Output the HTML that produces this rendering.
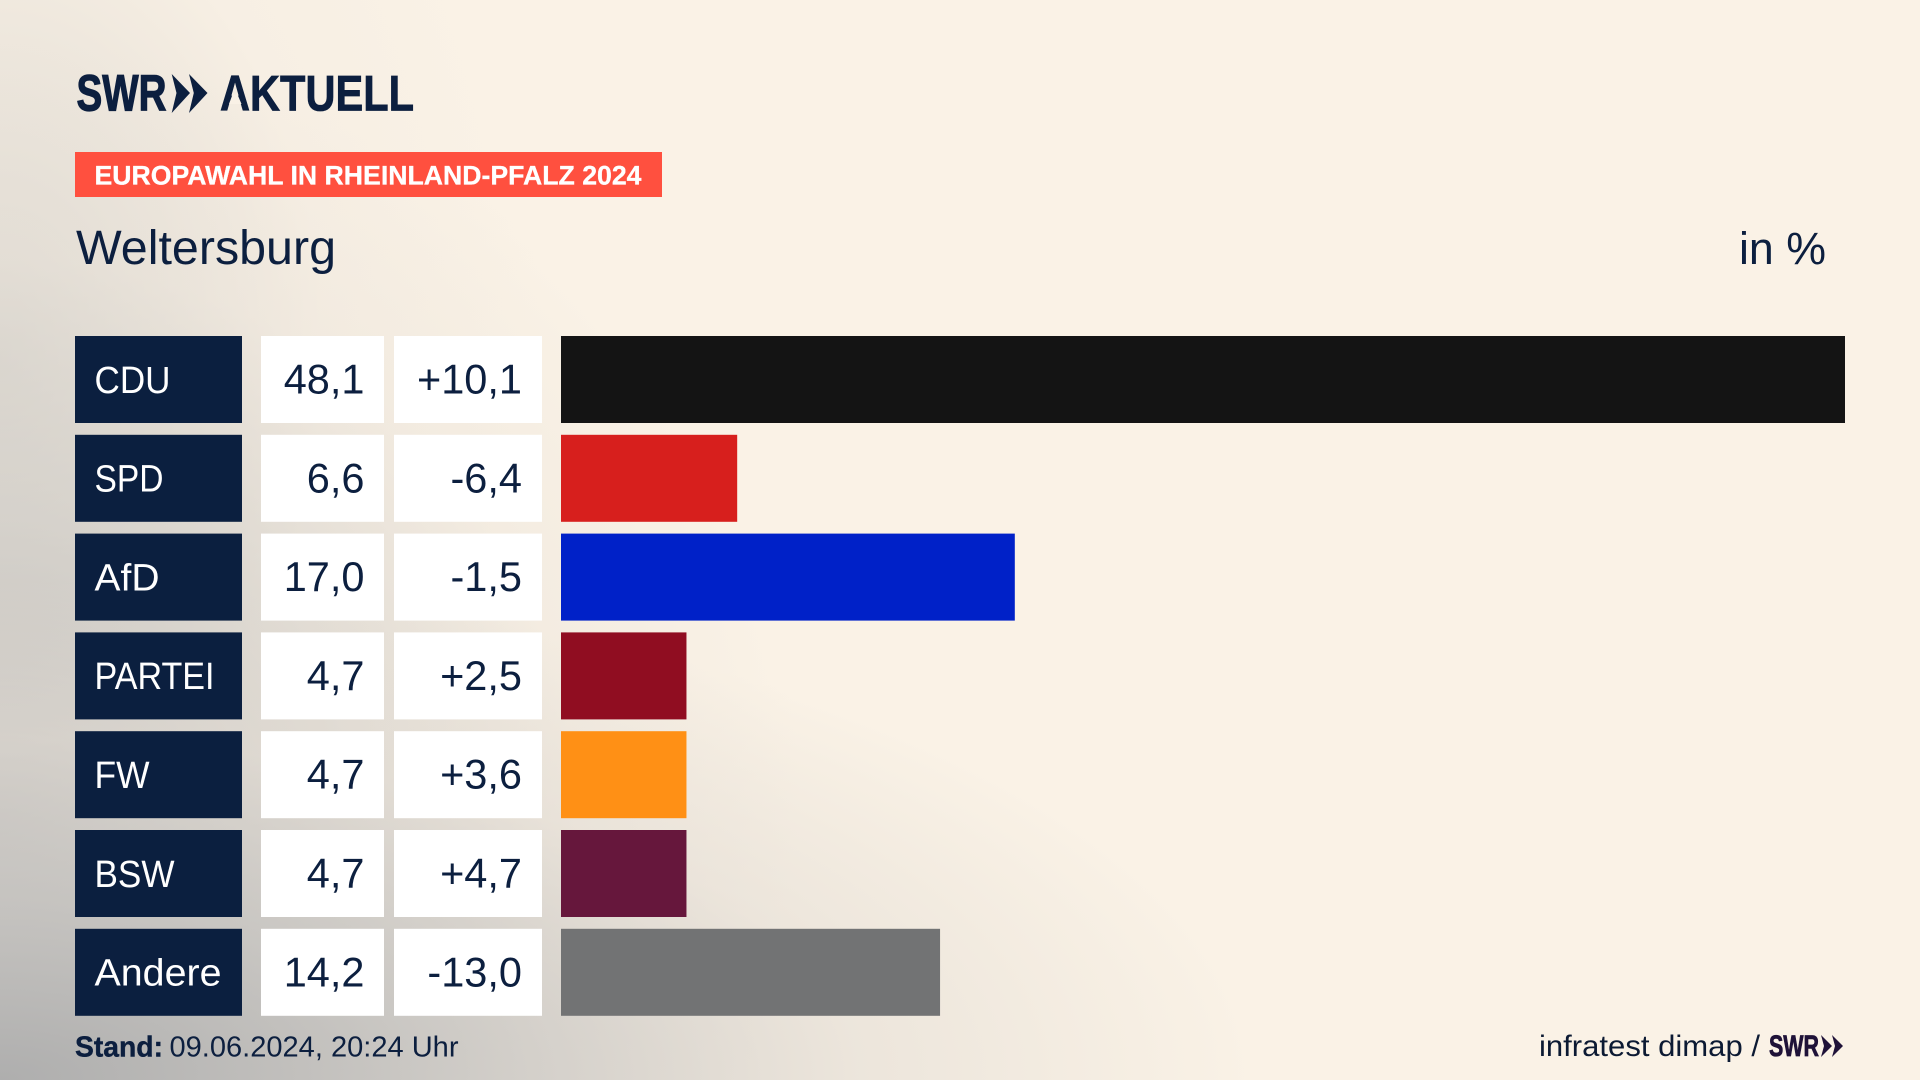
<!DOCTYPE html>
<html lang="de">
<head>
<meta charset="utf-8">
<title>Europawahl in Rheinland-Pfalz 2024 – Weltersburg</title>
<style>
html,body{margin:0;padding:0;width:1920px;height:1080px;overflow:hidden;background:#faf2e6}
#bg{position:absolute;left:0;top:0;width:1920px;height:1080px;
background:
radial-gradient(ellipse 1260px 500px at 0px 1080px,rgba(172,172,172,.95) 0%,rgba(196,194,191,.8) 35%,rgba(225,219,211,.55) 68%,rgba(250,242,230,0) 100%),
radial-gradient(ellipse 800px 780px at 0px 820px,rgba(175,175,175,.75) 0%,rgba(205,202,197,.6) 40%,rgba(232,225,216,.35) 72%,rgba(250,242,230,0) 100%),
radial-gradient(ellipse 540px 800px at 0px 360px,rgba(203,201,196,.65) 0%,rgba(240,232,222,.3) 60%,rgba(250,242,230,0) 100%),
#faf2e6}
svg{position:absolute;left:0;top:0}
text{font-family:"Liberation Sans",sans-serif}
</style>
</head>
<body>
<div id="bg"></div>
<svg id="chart" width="1920" height="1080" viewBox="0 0 1920 1080">
  <g fill="#0c1f3f">
    <text x="76.500" y="110.500" font-size="51" font-weight="700" stroke="#0c1f3f" stroke-width="1.200" textLength="90" lengthAdjust="spacingAndGlyphs">SWR</text>
    <polygon points="171.700,74 190,93 171.700,113 176.500,93"/>
    <polygon points="189,74 207.500,93 189,113 193.800,93"/>
    <text x="220" y="110.500" font-size="50" font-weight="700" stroke="#0c1f3f" stroke-width="0.800" textLength="194" lengthAdjust="spacingAndGlyphs">AKTUELL</text>
    <polygon points="232.500,94.500 237.500,94.500 241.500,104 229,104" fill="#f9f1e6"/>
  </g>
  <rect x="75" y="152" width="587" height="45" fill="#ff503f"/>
  <text x="94.500" y="184.500" font-size="27" font-weight="700" fill="#ffffff" stroke="#ffffff" stroke-width="0.300" textLength="547" lengthAdjust="spacingAndGlyphs">EUROPAWAHL IN RHEINLAND-PFALZ 2024</text>
  <text x="76" y="264" font-size="48" fill="#0c1f3f" textLength="260" lengthAdjust="spacingAndGlyphs">Weltersburg</text>
  <text x="1739" y="264" font-size="45" fill="#0c1f3f" textLength="87" lengthAdjust="spacingAndGlyphs">in %</text>
  <g id="rows"></g>
  <text x="75" y="1056.500" font-size="29" font-weight="700" fill="#0c1f3f" stroke="#0c1f3f" stroke-width="0.400" textLength="88" lengthAdjust="spacingAndGlyphs">Stand:</text>
  <text x="169.500" y="1056.500" font-size="29" fill="#0c1f3f" textLength="289" lengthAdjust="spacingAndGlyphs">09.06.2024, 20:24 Uhr</text>
  <text x="1539" y="1056" font-size="30" fill="#0c1a33" textLength="221" lengthAdjust="spacingAndGlyphs">infratest dimap /</text>
  <g fill="#1f1238">
    <text x="1769" y="1056" font-size="30" font-weight="700" stroke="#1f1238" stroke-width="0.800" textLength="50" lengthAdjust="spacingAndGlyphs">SWR</text>
    <polygon points="1821,1035 1832,1046 1821,1057 1824,1046"/>
    <polygon points="1832,1035 1843,1046 1832,1057 1835,1046"/>
  </g>
</svg>
<script>
const parties = ["CDU", "SPD", "AfD", "PARTEI", "FW", "BSW", "Andere"];
const results = [48.1, 6.6, 17.0, 4.7, 4.7, 4.7, 14.2];
const changes = [10.1, -6.4, -1.5, 2.5, 3.6, 4.7, -13.0];

const partyColor = {CDU:"#141414",SPD:"#d71f1d",AfD:"#0021c8",PARTEI:"#900d21",FW:"#ff9015",BSW:"#66173c",Andere:"#727374"};
const labelFit = {CDU:76,SPD:69,AfD:65,PARTEI:120,FW:55,BSW:80,Andere:127};
const SVGNS = "http://www.w3.org/2000/svg";
const rowsGroup = document.getElementById("rows");

/* axis functions */
function xScale(v){ return 561 + v * (1284 / 48.1); }
function yBand(i){ return 336 + i * 98.8; }
const bandHeight = 87;

function fmtValue(v){ return v.toFixed(1).replace(".", ","); }
function fmtChange(v){ return (v > 0 ? "+" : "") + v.toFixed(1).replace(".", ","); }

function makeRect(x, y, w, h, fill){
  const r = document.createElementNS(SVGNS, "rect");
  r.setAttribute("x", x);
  r.setAttribute("y", y);
  r.setAttribute("width", w);
  r.setAttribute("height", h);
  r.setAttribute("fill", fill);
  rowsGroup.appendChild(r);
  return r;
}
function makeText(x, y, anchor, fill, size, str){
  const t = document.createElementNS(SVGNS, "text");
  t.setAttribute("x", x);
  t.setAttribute("y", y);
  t.setAttribute("text-anchor", anchor);
  t.setAttribute("fill", fill);
  t.setAttribute("font-size", size);
  t.textContent = str;
  rowsGroup.appendChild(t);
  return t;
}

parties.forEach(function(party, i){
  const top = yBand(i);
  const base = top + 57.5;

  const labelBox = makeRect(75, top, 167, bandHeight, "#0b1f3f");
  
  

  const labelText = makeText(94.5, top + 56.8, "start", "#ffffff", 38, party);
  labelText.setAttribute('textLength', labelFit[party]);
  labelText.setAttribute('lengthAdjust', 'spacingAndGlyphs');
  
  

  const valueBox = makeRect(261, top, 123, bandHeight, "#ffffff");
  
  

  const valueText = makeText(364.5, base, "end", "#0c1f3f", 41.5, fmtValue(results[i]));
  
  

  const changeBox = makeRect(394, top, 148, bandHeight, "#ffffff");
  
  

  const changeText = makeText(522, base, "end", "#0c1f3f", 41.5, fmtChange(changes[i]));
  
  

  const bar = makeRect(xScale(0), top, xScale(results[i]) - xScale(0), bandHeight, partyColor[party]);
  
  
});
</script>
</body>
</html>
